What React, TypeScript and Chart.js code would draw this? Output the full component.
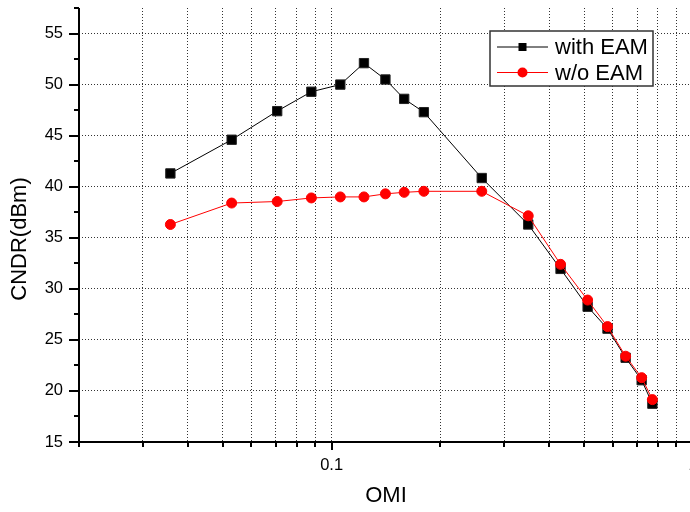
import React, { useEffect, useRef } from 'react';
import { Chart, registerables } from 'chart.js';

Chart.register(...registerables);

// ---- data ----
const omi = [0.0358, 0.0529, 0.0707, 0.0879, 0.1057, 0.1229, 0.1409, 0.1588, 0.18, 0.2603, 0.35, 0.43, 0.511, 0.58, 0.651, 0.721, 0.772];
const cndrWithEam = [41.3, 44.6, 47.4, 49.3, 50.0, 52.1, 50.5, 48.6, 47.3, 40.85, 36.3, 31.95, 28.25, 26.1, 23.25, 21.05, 18.75];
const cndrWithoutEam = [36.3, 38.4, 38.55, 38.9, 39.0, 39.0, 39.3, 39.45, 39.55, 39.55, 37.15, 32.4, 28.9, 26.3, 23.4, 21.3, 19.15];
const seriesNames = ['with EAM', 'w/o EAM'];
const seriesColors = ['#000000', '#ff0000'];
const xTickValues = [0.02, 0.03, 0.04, 0.05, 0.06, 0.07, 0.08, 0.09, 0.1, 0.2, 0.3, 0.4, 0.5, 0.6, 0.7, 0.8, 0.9, 1];
const xMajorTicks = [0.1, 1];
const xMajorLabels = ['0.1', '1'];
const yTickValues = [15, 17.5, 20, 22.5, 25, 27.5, 30, 32.5, 35, 37.5, 40, 42.5, 45, 47.5, 50, 52.5, 55, 57.5];
const yMajorTicks = [15, 20, 25, 30, 35, 40, 45, 50, 55];
const xTitle = 'OMI';
const yTitle = 'CNDR(dBm)';

const FONT = '"Liberation Sans", Arial, Helvetica, sans-serif';

const axesPlugin = {
  id: 'originAxes',
  afterDatasetsDraw(chart: any) {
    const { ctx, chartArea: a, scales } = chart;
    const x = scales.x, y = scales.y;
    ctx.save();
    ctx.strokeStyle = '#000';
    ctx.lineWidth = 2;
    ctx.beginPath();
    ctx.moveTo(a.left, a.top);
    ctx.lineTo(a.left, a.bottom);
    ctx.lineTo(a.right + 20, a.bottom);
    y.ticks.forEach((t: any) => {
      const py = Math.round(y.getPixelForValue(t.value));
      const len = yMajorTicks.includes(t.value) ? 10 : 5;
      ctx.moveTo(a.left, py);
      ctx.lineTo(a.left - len, py);
    });
    x.ticks.forEach((t: any) => {
      const px = Math.round(x.getPixelForValue(t.value));
      const len = xMajorTicks.includes(t.value) ? 8 : 5;
      ctx.moveTo(px, a.bottom);
      ctx.lineTo(px, a.bottom + len);
    });
    ctx.stroke();
    ctx.restore();
  },
};

const yTitlePlugin = {
  id: 'yTitle',
  afterDraw(chart: any) {
    const { ctx, chartArea: a } = chart;
    ctx.save();
    ctx.translate(a.left - 59, (a.top + a.bottom) / 2 + 14);
    ctx.rotate(-Math.PI / 2);
    ctx.font = `22px ${FONT}`;
    ctx.fillStyle = '#000';
    ctx.textAlign = 'center';
    ctx.textBaseline = 'middle';
    ctx.fillText(yTitle, 0, 0);
    ctx.restore();
  },
};

const legendPlugin = {
  id: 'boxLegend',
  afterDraw(chart: any) {
    const { ctx, chartArea: a } = chart;
    const bx = a.left + 411, by = a.top + 23, bw = 163, bh = 55;
    ctx.save();
    ctx.fillStyle = '#fff';
    ctx.fillRect(bx, by, bw, bh);
    ctx.strokeStyle = '#333';
    ctx.lineWidth = 1.5;
    ctx.strokeRect(bx, by, bw, bh);
    ctx.font = `22px ${FONT}`;
    ctx.textBaseline = 'middle';
    seriesNames.forEach((name, i) => {
      const cy = by + 16 + i * 25.5;
      const color = seriesColors[i];
      ctx.strokeStyle = color;
      ctx.lineWidth = 1;
      ctx.beginPath();
      ctx.moveTo(bx + 7, cy);
      ctx.lineTo(bx + 58, cy);
      ctx.stroke();
      ctx.fillStyle = color;
      const mx = bx + 32.5;
      if (i === 0) {
        ctx.fillRect(mx - 4, cy - 4, 8, 8);
      } else {
        ctx.beginPath();
        ctx.arc(mx, cy, 5, 0, Math.PI * 2);
        ctx.fill();
      }
      ctx.fillStyle = '#000';
      ctx.fillText(name, bx + 65, cy + 1);
    });
    ctx.restore();
  },
};

export default function App() {
  const ref = useRef<HTMLCanvasElement | null>(null);
  useEffect(() => {
    if (!ref.current) return;
    const chart = new Chart(ref.current, {
      type: 'line',
      data: {
        datasets: [
          {
            label: seriesNames[0],
            data: omi.map((v, i) => ({ x: v, y: cndrWithEam[i] })),
            borderColor: seriesColors[0],
            backgroundColor: seriesColors[0],
            pointBorderColor: '#222',
            borderWidth: 1,
            pointStyle: 'rect',
            pointRadius: 6.6,
            pointBorderWidth: 1,
            order: 1,
          },
          {
            label: seriesNames[1],
            data: omi.map((v, i) => ({ x: v, y: cndrWithoutEam[i] })),
            borderColor: seriesColors[1],
            backgroundColor: seriesColors[1],
            borderWidth: 1,
            pointStyle: 'circle',
            pointRadius: 5,
            pointBorderWidth: 1,
            order: 0,
          },
        ],
      },
      options: {
        responsive: false,
        animation: false,
        devicePixelRatio: 1,
        layout: { padding: { top: 8, right: 27, left: 0, bottom: 0 } },
        plugins: { legend: { display: false }, tooltip: { enabled: false } },
        scales: {
          x: {
            type: 'logarithmic',
            min: 0.02,
            max: 1,
            afterBuildTicks: (s: any) => {
              s.ticks = xTickValues.map((v) => ({ value: v }));
            },
            afterFit: (s: any) => {
              s.height = 70;
              s.paddingLeft = 0;
              s.paddingRight = 0;
            },
            ticks: {
              autoSkip: false,
              maxRotation: 0,
              padding: 14,
              color: '#000',
              font: { family: FONT, size: 16.5 },
              callback: (v: any) => {
                const k = xMajorTicks.indexOf(Number(v));
                return k >= 0 ? xMajorLabels[k] : '';
              },
            },
            grid: {
              drawTicks: false,
              color: (c: any) => (c.tick && c.tick.value === 0.02 ? 'rgba(0,0,0,0)' : '#333'),
              lineWidth: 1,
            },
            border: { display: false, dash: [1, 2] },
            title: {
              display: true,
              text: xTitle,
              color: '#000',
              font: { family: FONT, size: 22 },
              padding: { top: 0, bottom: 3 },
            },
          },
          y: {
            type: 'linear',
            min: 15,
            max: 57.5,
            afterBuildTicks: (s: any) => {
              s.ticks = yTickValues.map((v) => ({ value: v }));
            },
            afterFit: (s: any) => {
              s.width = 79;
              s.paddingTop = 0;
              s.paddingBottom = 0;
            },
            ticks: {
              autoSkip: false,
              padding: 16,
              color: '#000',
              font: { family: FONT, size: 16.5 },
              callback: (v: any) => (yMajorTicks.includes(Number(v)) ? String(v) : ''),
            },
            grid: {
              drawTicks: false,
              color: (c: any) =>
                c.tick && yMajorTicks.includes(c.tick.value) && c.tick.value !== 15 ? '#333' : 'rgba(0,0,0,0)',
              lineWidth: 1,
            },
            border: { display: false, dash: [1, 2] },
            title: { display: false },
          },
        },
      },
      plugins: [axesPlugin, legendPlugin, yTitlePlugin],
    });
    return () => chart.destroy();
  }, []);

  return (
    <div style={{ position: 'absolute', left: 0, top: 0, width: 690, height: 512, overflow: 'hidden', background: '#fff' }}>
      <canvas ref={ref} width={720} height={512} style={{ display: 'block', width: 720, height: 512 }} />
    </div>
  );
}
